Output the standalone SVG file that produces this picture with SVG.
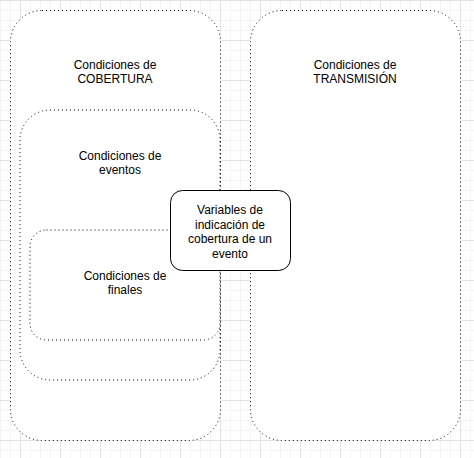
<svg xmlns="http://www.w3.org/2000/svg" width="474" height="458" viewBox="0 0 474 458">
  <defs>
    <pattern id="grid" patternUnits="userSpaceOnUse" x="20" y="0" width="40" height="40">
      <rect x="0" y="0" width="40" height="40" fill="#ffffff"/>
      <rect x="10" y="0" width="1" height="40" fill="#f4f4f4"/>
      <rect x="20" y="0" width="1" height="40" fill="#f4f4f4"/>
      <rect x="30" y="0" width="1" height="40" fill="#f4f4f4"/>
      <rect x="0" y="10" width="40" height="1" fill="#f4f4f4"/>
      <rect x="0" y="20" width="40" height="1" fill="#f4f4f4"/>
      <rect x="0" y="30" width="40" height="1" fill="#f4f4f4"/>
      <rect x="0" y="0" width="1" height="40" fill="#e4e4e4"/>
      <rect x="0" y="0" width="40" height="1" fill="#e4e4e4"/>
    </pattern>
  </defs>
  <style>
    .group { fill: #ffffff; stroke: #000000; stroke-width: 1; stroke-dasharray: 1 3; }
    .node { fill: #ffffff; stroke: #000000; stroke-width: 1; }
    .lbl { font-family: "Liberation Sans", Arial, Helvetica, sans-serif; font-size: 12px; fill: #000000; text-anchor: middle; }
  </style>
  <rect x="0" y="0" width="474" height="458" fill="url(#grid)"/>

  <g id="cobertura">
    <rect class="group" x="10.5" y="10.5" width="210" height="430" rx="31.5" ry="31.5"/>
    <text class="lbl" x="115" y="69">Condiciones de</text>
    <text class="lbl" x="115" y="83.4">COBERTURA</text>
  </g>

  <g id="eventos">
    <rect class="group" x="20" y="110" width="200" height="270" rx="30" ry="30"/>
    <text class="lbl" x="120" y="160">Condiciones de</text>
    <text class="lbl" x="120" y="174.4">eventos</text>
  </g>

  <g id="finales">
    <rect class="group" x="30" y="230" width="190" height="110" rx="16.5" ry="16.5"/>
    <text class="lbl" x="125" y="280">Condiciones de</text>
    <text class="lbl" x="125" y="294.4">finales</text>
  </g>

  <g id="transmision">
    <rect class="group" x="250.5" y="10.5" width="210" height="430" rx="31.5" ry="31.5"/>
    <text class="lbl" x="355" y="69">Condiciones de</text>
    <text class="lbl" x="355" y="83.4">TRANSMISIÓN</text>
  </g>

  <g id="variables">
    <rect class="node" x="170.5" y="190.5" width="120" height="80" rx="12" ry="12"/>
    <text class="lbl" x="230" y="214.4">Variables de</text>
    <text class="lbl" x="230" y="228.8">indicación de</text>
    <text class="lbl" x="230" y="243.2">cobertura de un</text>
    <text class="lbl" x="230" y="257.6">evento</text>
  </g>

  <g id="connectors"></g>
</svg>
